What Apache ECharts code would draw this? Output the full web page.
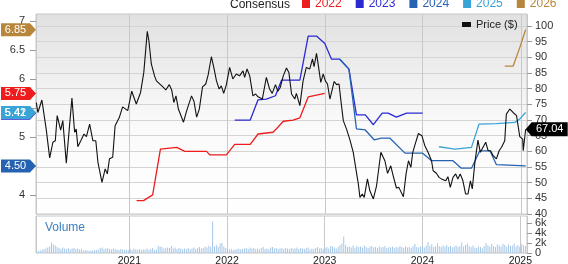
<!DOCTYPE html>
<html><head><meta charset="utf-8">
<script src="https://cdn.jsdelivr.net/npm/echarts@6/dist/echarts.min.js"></script>
<style>html,body{margin:0;padding:0;background:#fff}#c{width:568px;height:264px}</style>
</head><body><div id="c"></div>
<script>
const FONT = 'Liberation Sans, Arial, sans-serif';
const xMin = '2020-01-20', xMax = '2025-01-24';
const priceTicks = [40,45,50,55,60,65,70,75,80,85,90,95,100];
const epsLabelTicks = [4,5,6,6.5,7];
const epsTickMarks = [4,4.5,5,5.5,6,6.5,7];
const volumeTicks = [0,2,4,6];
const volumeLabelsA = [0,4];
const volumeLabelsB = [2,6];

const priceDates = ['2020-01-21','2020-01-27','2020-02-11','2020-02-17','2020-02-27','2020-03-11','2020-03-23','2020-04-01','2020-04-08','2020-04-21','2020-04-29','2020-05-12','2020-06-02','2020-06-12','2020-06-18','2020-06-24','2020-07-05','2020-07-17','2020-07-26','2020-08-07','2020-08-19','2020-08-30','2020-09-07','2020-09-22','2020-10-04','2020-10-12','2020-10-20','2020-11-01','2020-11-10','2020-11-26','2020-12-08','2020-12-27',
'2021-01-11','2021-01-28','2021-02-13','2021-02-25','2021-03-10','2021-03-16','2021-03-25','2021-04-06','2021-04-13','2021-04-28','2021-05-09','2021-05-18','2021-05-31','2021-06-09','2021-06-17','2021-06-25','2021-07-04','2021-07-23','2021-08-04','2021-08-22','2021-08-31','2021-09-10','2021-09-20','2021-10-02','2021-10-14','2021-10-23','2021-11-04','2021-11-13','2021-11-23','2021-12-03','2021-12-11','2021-12-20','2021-12-30',
'2022-01-11','2022-01-23','2022-02-05','2022-02-17','2022-03-02','2022-03-08','2022-03-17','2022-03-27','2022-04-08','2022-04-18','2022-04-27','2022-05-13','2022-05-28','2022-06-09','2022-06-19','2022-07-01','2022-07-10','2022-07-19','2022-07-30','2022-08-11','2022-08-20','2022-08-30','2022-09-11','2022-09-17','2022-09-30','2022-10-12','2022-10-24','2022-11-06','2022-11-16','2022-11-22','2022-12-01','2022-12-07','2022-12-17','2022-12-26',
'2023-01-03','2023-01-11','2023-01-20','2023-01-26','2023-02-05','2023-02-14','2023-02-23','2023-03-02','2023-03-11','2023-03-23','2023-04-05','2023-04-17','2023-04-26','2023-05-06','2023-05-12','2023-05-21','2023-05-28','2023-06-09','2023-06-18','2023-07-01','2023-07-13','2023-07-29','2023-08-13','2023-08-23','2023-09-04','2023-09-13','2023-09-25','2023-10-04','2023-10-09','2023-10-21','2023-10-31','2023-11-09','2023-11-18','2023-11-25','2023-12-04','2023-12-16','2023-12-29',
'2024-01-09','2024-01-21','2024-02-03','2024-02-09','2024-02-21','2024-03-02','2024-03-11','2024-03-17','2024-03-27','2024-04-04','2024-04-13','2024-04-23','2024-05-03','2024-05-11','2024-05-20','2024-05-30','2024-06-09','2024-06-18','2024-06-27','2024-07-04','2024-07-13','2024-07-25','2024-08-03','2024-08-13','2024-08-23','2024-09-01','2024-09-10','2024-09-20','2024-10-02','2024-10-12','2024-10-21','2024-11-02','2024-11-08','2024-11-21','2024-12-03','2024-12-16','2024-12-28','2025-01-08','2025-01-10','2025-01-19'];
const priceValues = [75.6,72.4,76.4,76.0,67.1,57.9,62.9,63.4,71.4,66.8,69.8,56.2,77.0,66.1,67.1,61.5,63.4,65.5,64.7,68.7,63.4,63.4,56.5,50.1,54.4,52.8,57.6,58.1,68.2,70.9,74.2,73.0,
79.2,75.1,78.8,85.2,98.3,95.3,87.9,84.1,82.5,81.3,80.4,79.6,81.3,79.6,75.6,77.7,73.5,69.3,73.0,77.7,76.0,70.9,73.5,80.6,81.5,84.4,90.2,86.8,82.5,79.9,80.9,78.5,81.3,
86.8,83.1,84.7,84.1,85.7,83.6,86.3,84.1,77.7,78.3,77.4,76.7,83.6,79.9,78.5,81.3,79.2,80.4,84.1,86.6,85.2,78.3,76.7,78.5,74.6,82.5,86.8,86.3,89.5,87.0,91.3,87.9,82.0,84.7,
82.5,81.5,76.7,77.2,82.3,81.3,81.5,76.2,69.8,67.1,63.6,59.7,54.9,49.6,45.3,46.4,45.3,51.2,47.4,44.8,49.0,59.7,57.0,53.0,55.4,52.2,48.3,48.5,48.0,45.5,52.8,57.0,54.9,59.7,62.3,65.7,65.0,
61.8,59.7,57.0,53.8,53.0,51.7,51.2,51.7,50.6,51.9,48.5,51.7,52.8,51.2,52.8,50.6,46.4,46.4,50.6,48.0,56.0,63.6,59.7,61.3,62.9,60.2,60.2,58.6,57.6,60.2,61.3,63.4,71.9,73.5,72.4,71.4,64.7,63.9,60.2,67.04];

const eps2022Dates = ['2021-01-29','2021-02-24','2021-03-30','2021-04-28','2021-06-28','2021-07-28','2021-10-17','2021-10-29','2021-12-30','2022-01-30','2022-03-29','2022-04-27','2022-06-22','2022-07-11','2022-07-30','2022-09-05','2022-09-30','2022-10-31','2023-01-01'];
const eps2022Values = [3.90,3.90,4.00,4.79,4.82,4.75,4.75,4.69,4.69,4.87,4.87,5.05,5.08,5.17,5.27,5.29,5.33,5.69,5.75];
const eps2023Dates = ['2022-01-30','2022-03-29','2022-04-27','2022-05-28','2022-07-01','2022-07-24','2022-09-30','2022-10-31','2022-12-01','2023-01-01','2023-01-26','2023-02-26','2023-04-01','2023-04-29','2023-06-01','2023-07-01','2023-08-03','2023-08-25','2023-09-25','2023-11-02','2024-01-01'];
const eps2023Values = [5.29,5.29,5.64,5.65,5.71,5.98,5.98,6.74,6.74,6.61,6.34,6.34,6.17,5.38,5.38,5.21,5.41,5.41,5.34,5.41,5.41];
const eps2024Dates = ['2023-02-26','2023-04-01','2023-04-29','2023-06-01','2023-07-04','2023-07-31','2023-08-31','2023-10-27','2024-01-01','2024-02-03','2024-04-23','2024-05-24','2024-07-01','2024-08-01','2024-09-08','2024-10-02','2025-01-19'];
const eps2024Values = [6.34,6.17,5.14,5.12,4.95,4.98,4.98,4.72,4.72,4.59,4.59,4.46,4.46,4.76,4.76,4.52,4.50];
const eps2025Dates = ['2024-03-02','2024-04-30','2024-07-01','2024-07-29','2024-10-02','2024-12-10','2024-12-28','2025-01-19'];
const eps2025Values = [4.83,4.79,4.82,5.22,5.23,5.25,5.31,5.42];
const eps2026Dates = ['2024-11-02','2024-12-03','2024-12-28','2025-01-19'];
const eps2026Values = [6.22,6.22,6.54,6.85];

const volumeStart = '2020-01-20';
const volumeValues = [0.3,0.4,0.5,0.7,0.8,0.9,1.1,1.3,2.1,1.7,1.5,1.2,
1.0,0.8,1.1,0.9,0.8,1.0,0.7,0.9,1.0,0.8,0.9,0.7,0.8,
0.5,0.6,0.5,0.4,0.5,0.5,0.6,0.6,0.7,
1.0,1.1,0.8,0.9,1.0,0.8,0.7,0.9,0.8,
0.7,0.6,0.8,0.7,0.6,0.7,0.5,
0.8,0.6,0.9,0.7,0.7,0.8,0.6,0.7,
0.7,0.9,0.6,0.8,1.0,0.6,0.7,
1.4,1.3,1.2,0.9,1.0,1.1,
1.0,1.4,0.9,1.1,0.8,1.0,0.9,0.7,
0.9,0.8,1.0,0.7,0.9,1.1,0.8,1.0,1.2,0.9,
1.0,1.3,1.1,1.5,1.2,6.3,1.3,
1.6,1.2,1.9,2.0,1.3,1.0,
0.8,0.7,0.8,0.6,0.7,0.8,0.9,0.7,0.8,0.9,1.0,0.8,
1.1,0.9,1.0,0.8,0.9,0.7,1.0,1.2,0.8,0.9,0.7,1.1,
1.2,0.9,1.0,0.8,0.9,1.0,0.8,1.0,0.9,0.8,1.0,0.9,
0.9,1.1,0.8,1.0,0.9,0.8,1.0,1.1,0.7,0.9,0.8,1.0,1.2,0.9,1.0,0.8,
1.0,1.2,0.9,1.4,1.3,1.1,0.9,
1.2,1.6,1.9,3.3,1.6,1.2,
1.3,1.1,1.5,1.0,1.4,1.2,1.3,1.1,1.5,1.2,1.0,1.3,1.4,1.1,
1.2,1.0,1.3,1.1,1.2,1.4,1.0,1.2,1.1,1.3,1.0,1.2,1.1,1.4,1.2,
1.0,1.3,1.1,1.2,1.0,1.4,1.8,1.2,1.1,1.3,
1.3,1.1,1.5,2.2,1.4,1.8,1.2,1.3,2.0,1.4,
1.2,1.5,1.3,1.6,1.2,1.4,1.1,1.3,1.5,1.2,1.4,2.1,1.3,1.6,1.9,
1.4,1.2,1.5,1.1,1.0,1.3,1.2,0.9,1.4,2.0,1.5,1.3,1.8,1.4,1.2,
1.7,1.5,1.3,1.8,1.6,1.2,1.7,1.4,1.5,1.9,1.3,1.6,1.2,1.8,1.5,1.4];

const C2022 = '#ee1c1c', C2023 = '#2a2ad2', C2024 = '#2563b2', C2025 = '#3aa4d6', C2026 = '#b8863b';

const chart = echarts.init(document.getElementById('c'), null, {renderer: 'canvas'});
const P = echarts.time.parse;
const startTs = +P(volumeStart);
const volumeData = volumeValues.map((v, i) => [startTs + i * 7 * 86400000, v]);
const YEAR = 365 * 86400000;

function epsSeries(name, color, dates, values) {
  const last = values[values.length - 1];
  return {
    name, type: 'line', xAxisIndex: 0, yAxisIndex: 0,
    data: dates.map((d, i) => [d, values[i]]),
    symbol: 'none', lineStyle: {color, width: 1.3}, itemStyle: {color}, z: 3,
    markPoint: {
      silent: true, animation: false,
      symbol: 'path://M0,0 L29,0 L35,6.5 L29,13 L0,13 Z', symbolSize: [35, 13], symbolOffset: [-17.5, 0], symbolKeepAspect: false,
      itemStyle: {color},
      label: {show: true, position: 'inside', color: '#fff', fontSize: 11, fontFamily: FONT, offset: [-3, 0], formatter: () => last.toFixed(2)},
      data: [{coord: [xMin, last]}]
    }
  };
}
const lastPrice = priceValues[priceValues.length - 1];
const yearFmt = v => { const d = new Date(v); return (d.getMonth() === 0 && d.getDate() === 1) ? String(d.getFullYear()) : ''; };
const volFmt = v => v === 0 ? '0' : v + 'k';

chart.setOption({
  animation: false,
  textStyle: {fontFamily: FONT},
  grid: [
    {left: 36, right: 41, top: 14, height: 200, show: true, borderColor: '#c6c6c6', borderWidth: 1, outerBoundsMode: 'none', containLabel: false,
     backgroundColor: {type: 'linear', x: 0, y: 0, x2: 0, y2: 1, colorStops: [{offset: 0, color: '#e1e1e1'}, {offset: 0.55, color: '#fafafa'}, {offset: 1, color: '#ffffff'}]}},
    {left: 36, right: 41, top: 216, height: 37, show: true, borderColor: '#c6c6c6', borderWidth: 1, backgroundColor: '#ffffff', outerBoundsMode: 'none', containLabel: false}
  ],
  xAxis: [
    {type: 'time', gridIndex: 0, min: xMin, max: xMax, minInterval: YEAR,
     axisLine: {show: false}, axisLabel: {show: false}, axisTick: {show: false},
     splitLine: {show: true, lineStyle: {color: '#c8c8c8'}}},
    {type: 'time', gridIndex: 1, min: xMin, max: xMax, minInterval: YEAR,
     axisLine: {show: false}, axisTick: {show: false},
     axisLabel: {formatter: yearFmt, fontSize: 10.5, color: '#222', margin: 3, fontFamily: FONT, showMinLabel: false, showMaxLabel: false},
     splitLine: {show: true, lineStyle: {color: '#c8c8c8'}}}
  ],
  yAxis: [
    {type: 'value', gridIndex: 0, position: 'left', min: 3.67, max: 7.12,
     splitLine: {show: false}, axisLine: {show: false},
     axisTick: {show: true, length: 6, customValues: epsTickMarks, lineStyle: {color: '#999'}},
     axisLabel: {customValues: epsLabelTicks, fontSize: 11, color: '#333', margin: 11, fontFamily: FONT, showMinLabel: true, showMaxLabel: true}},
    {type: 'value', gridIndex: 0, position: 'right', min: 40, max: 103.84,
     axisLine: {show: false},
     axisTick: {show: true, length: 5, customValues: priceTicks, lineStyle: {color: '#999'}},
     axisLabel: {customValues: priceTicks, fontSize: 11, color: '#333', margin: 8, fontFamily: FONT, showMinLabel: true, showMaxLabel: true},
     splitLine: {show: true, lineStyle: {color: '#d4d4d4'}}},
    {type: 'value', gridIndex: 1, position: 'right', min: 0, max: 7.4,
     axisLine: {show: false}, splitLine: {show: false},
     axisTick: {show: true, length: 5, customValues: volumeTicks, lineStyle: {color: '#999'}},
     axisLabel: {customValues: volumeLabelsA, fontSize: 11, color: '#333', margin: 8, fontFamily: FONT, showMinLabel: true, showMaxLabel: true, formatter: volFmt}},
    {type: 'value', gridIndex: 1, position: 'right', offset: 0, min: 0, max: 7.4,
     axisLine: {show: false}, splitLine: {show: false}, axisTick: {show: false},
     axisLabel: {customValues: volumeLabelsB, fontSize: 11, color: '#333', margin: 8, fontFamily: FONT, showMinLabel: true, showMaxLabel: true, formatter: volFmt}}
  ],
  legend: [
    {data: [{name: '2022', textStyle: {color: C2022}}, {name: '2023', textStyle: {color: C2023}}, {name: '2024', textStyle: {color: C2024}}, {name: '2025', textStyle: {color: C2025}}, {name: '2026', textStyle: {color: C2026}}],
     left: 302, top: -2, padding: 0, itemWidth: 8, itemHeight: 8, itemGap: 14, icon: 'rect', selectedMode: false,
     textStyle: {fontSize: 12, fontFamily: FONT}},
    {data: ['Price ($)'], left: 462, top: 19, padding: 0, itemWidth: 9, itemHeight: 5, icon: 'rect', selectedMode: false,
     textStyle: {fontSize: 11, color: '#222', fontFamily: FONT}}
  ],
  graphic: [
    {type: 'text', left: 230, top: -1, style: {text: 'Consensus', fontSize: 12, fill: '#222', fontFamily: FONT}},
    {type: 'text', left: 45, top: 222, style: {text: 'Volume', fontSize: 12, fill: '#3a7fc0', fontFamily: FONT}}
  ],
  series: [
    {name: 'Volume', type: 'bar', xAxisIndex: 1, yAxisIndex: 2, data: volumeData, barWidth: 1, itemStyle: {color: '#a6c8e8'}},
    epsSeries('2022', C2022, eps2022Dates, eps2022Values),
    epsSeries('2023', C2023, eps2023Dates, eps2023Values),
    epsSeries('2024', C2024, eps2024Dates, eps2024Values),
    epsSeries('2025', C2025, eps2025Dates, eps2025Values),
    epsSeries('2026', C2026, eps2026Dates, eps2026Values),
    {name: 'Price ($)', type: 'line', xAxisIndex: 0, yAxisIndex: 1, z: 4,
     data: priceDates.map((d, i) => [d, priceValues[i]]),
     symbol: 'none', lineStyle: {color: '#111', width: 1.1}, itemStyle: {color: '#111'},
     markPoint: {
       silent: true, animation: false,
       symbol: 'path://M0,7 L6,0 L42,0 L42,14 L6,14 Z', symbolSize: [42, 14], symbolOffset: [21, 0], symbolKeepAspect: false,
       itemStyle: {color: '#000'},
       label: {show: true, position: 'inside', color: '#fff', fontSize: 11, fontFamily: FONT, offset: [3, 0], formatter: () => lastPrice.toFixed(2)},
       data: [{coord: [priceDates[priceDates.length - 1], lastPrice]}]
     }}
  ]
});
</script></body></html>
